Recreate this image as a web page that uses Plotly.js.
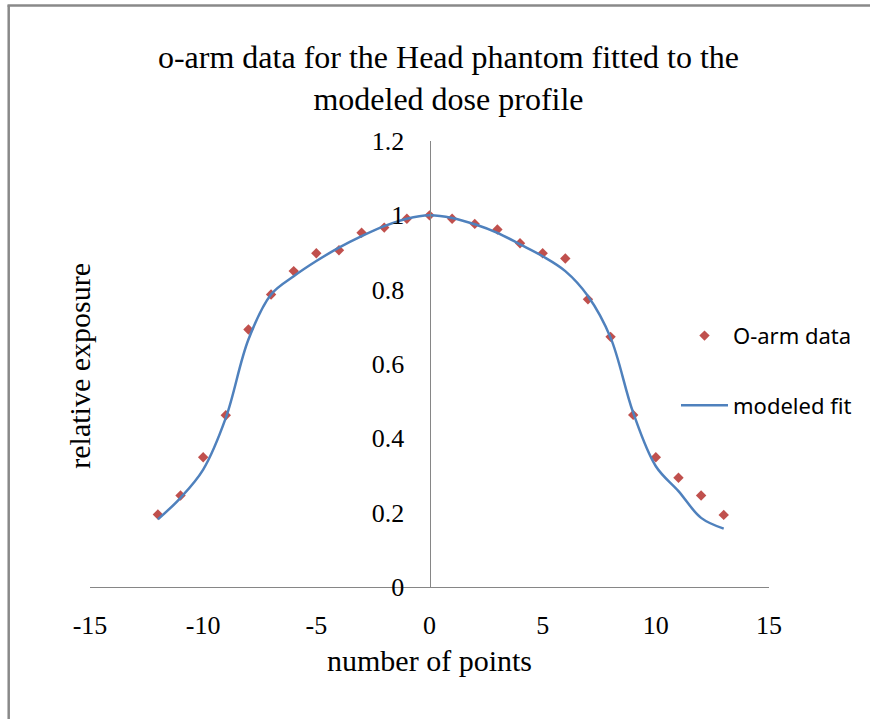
<!DOCTYPE html>
<html>
<head>
<meta charset="utf-8">
<script src="https://cdn.plot.ly/plotly-3.0.1.min.js"></script>
<style>
html,body{margin:0;padding:0;background:#fff;}
#chart{width:870px;height:719px;}
</style>
</head>
<body>
<div id="chart"></div>
<script>
// O-arm measured data
var dataX = [-12,-11,-10,-9,-8,-7,-6,-5,-4,-3,-2,-1,0,1,2,3,4,5,6,7,8,9,10,11,12,13];
var dataY = [0.195,0.246,0.349,0.462,0.693,0.787,0.850,0.898,0.906,0.953,0.967,0.991,1.0,
             0.991,0.977,0.962,0.925,0.898,0.884,0.774,0.673,0.463,0.349,0.294,0.246,0.194];
// modeled fit
var fitX = [-12,-11,-10,-9,-8,-7,-6,-5,-4,-3,-2,-1,0,1,2,3,4,5,6,7,8,9,10,11,12,13];
var fitY = [0.182,0.240,0.316,0.455,0.666,0.787,0.836,0.877,0.913,0.944,0.971,0.991,1.0,
            0.993,0.976,0.953,0.922,0.890,0.850,0.783,0.671,0.469,0.325,0.258,0.186,0.157];
var xTicks = [-15,-10,-5,0,5,10,15];
var yTicks = [0,0.2,0.4,0.6,0.8,1,1.2];
var yTickText = ['0','0.2','0.4','0.6','0.8','1','1.2'];

var serif = '"Liberation Serif", "Times New Roman", serif';
var sans = '"Noto Sans", "Liberation Sans", sans-serif';

var traces = [
  {
    x: dataX, y: dataY, type: 'scatter', mode: 'markers', name: 'O-arm data',
    marker: {symbol: 'diamond', size: 8, color: '#C0504D'},
    legendgroup: 'a'
  },
  {
    x: fitX, y: fitY, type: 'scatter', mode: 'lines', name: 'modeled fit',
    line: {color: '#4F81BD', width: 2.5, shape: 'spline', smoothing: 1},
    legendgroup: 'b'
  }
];

var L = 90, R = 101, T = 141, B = 131.5;
var pw = 870 - L - R, ph = 719 - T - B;
function px2x(p){ return (p - L) / pw; }
function py2y(p){ return (719 - B - p) / ph; }

var layout = {
  width: 870, height: 719,
  margin: {l: L, r: R, t: T, b: B, pad: 0, autoexpand: false},
  paper_bgcolor: '#ffffff', plot_bgcolor: '#ffffff',
  showlegend: true,
  title: {
    text: 'o-arm data for the Head phantom fitted to the<br>modeled dose profile',
    font: {family: serif, size: 32, color: '#000'},
    xref: 'container', x: 448.5 / 870, xanchor: 'center',
    yref: 'container', y: 1 - 68 / 719, yanchor: 'top'
  },
  xaxis: {
    range: [-15, 15], tickvals: xTicks, ticktext: xTicks.map(String),
    showgrid: false, zeroline: false, showline: true, linecolor: '#868686', linewidth: 1,
    ticks: '', ticklabelstandoff: 15,
    tickfont: {family: serif, size: 26, color: '#000'},
    title: {text: 'number of points', font: {family: serif, size: 30, color: '#000'}, standoff: 10},
    fixedrange: true
  },
  yaxis: {
    range: [0, 1.2], tickvals: yTicks, ticktext: yTickText,
    anchor: 'free', position: 0.5,
    showgrid: false, zeroline: false, showline: true, linecolor: '#868686', linewidth: 1,
    ticks: '', ticklabelstandoff: 20,
    tickfont: {family: serif, size: 26, color: '#000'},
    fixedrange: true
  },
  legend: {
    x: px2x(676), xanchor: 'left', y: py2y(315), yanchor: 'top',
    font: {family: sans, size: 22, color: '#000'},
    traceorder: 'grouped', tracegroupgap: 38, itemwidth: 47,
    bgcolor: 'rgba(0,0,0,0)', borderwidth: 0
  },
  annotations: [
    {
      text: 'relative exposure', textangle: -90,
      xref: 'paper', yref: 'paper', x: px2x(80), y: py2y(366),
      xanchor: 'center', yanchor: 'middle', showarrow: false,
      font: {family: serif, size: 30, color: '#000'}
    }
  ],
  shapes: [
    {type: 'line', xref: 'paper', yref: 'paper', x0: px2x(8.7), x1: px2x(8.7), y0: py2y(5), y1: py2y(740),
     line: {color: '#898989', width: 2.5}},
    {type: 'line', xref: 'paper', yref: 'paper', x0: px2x(7.5), x1: px2x(900), y0: py2y(5.3), y1: py2y(5.3),
     line: {color: '#898989', width: 2.5}}
  ]
};

Plotly.newPlot('chart', traces, layout, {displayModeBar: false, staticPlot: true});
</script>
</body>
</html>
